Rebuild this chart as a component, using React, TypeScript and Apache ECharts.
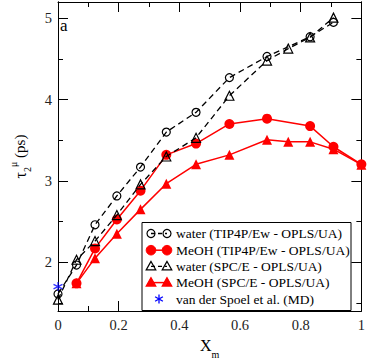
import React, { useEffect, useRef } from "react";
import * as echarts from "echarts";

const xTip = [0, 0.061, 0.122, 0.194, 0.272, 0.357, 0.455, 0.565, 0.689, 0.831, 0.908];
const waterTip = [1.61, 1.965, 2.46, 2.815, 3.17, 3.6, 3.843, 4.27, 4.53, 4.773, 4.95];
const xMeTip = [0.061, 0.122, 0.194, 0.272, 0.357, 0.455, 0.565, 0.689, 0.831, 0.908, 1.0];
const meohTip = [1.74, 2.17, 2.525, 2.88, 3.32, 3.459, 3.7, 3.765, 3.674, 3.42, 3.204];
const xSpc = [0, 0.061, 0.122, 0.194, 0.272, 0.357, 0.455, 0.565, 0.689, 0.759, 0.831, 0.908];
const waterSpc = [1.54, 2.03, 2.26, 2.58, 2.957, 3.3, 3.53, 4.047, 4.48, 4.627, 4.765, 5.008];
const xMeSpc = [0.061, 0.122, 0.194, 0.272, 0.357, 0.455, 0.565, 0.689, 0.759, 0.831, 0.908, 1.0];
const meohSpc = [1.74, 2.05, 2.35, 2.65, 2.965, 3.204, 3.32, 3.506, 3.48, 3.48, 3.39, 3.2];
const spoelX = [0];
const spoelY = [1.7];
const legendNames = [
  "water (TIP4P/Ew - OPLS/UA)",
  "MeOH (TIP4P/Ew - OPLS/UA)",
  "water (SPC/E - OPLS/UA)",
  "MeOH (SPC/E - OPLS/UA)",
  "van der Spoel et al. (MD)",
];
const yMajor = [2, 3, 4, 5];
const yMinor = [1.5, 2.5, 3.5, 4.5];

const FONT = "Liberation Serif";
const ASTER = "path://M0,-5L0,5M-4.33,-2.5L4.33,2.5M-4.33,2.5L4.33,-2.5";

const zip = (xs: number[], ys: number[]) => xs.map((x, i) => [x, ys[i]]);

export default function App() {
  const ref = useRef<HTMLDivElement>(null);
  useEffect(() => {
    const chart = echarts.init(ref.current!, null, { renderer: "svg" });
    const L = { x0: 142, y0: 222.5, w: 209, h: 88 };
    const rows = [233.5, 250.2, 266.4, 282.6, 299];
    const m1 = 151, m2 = 167;
    const legendGraphics: any[] = [
      { type: "rect", shape: { x: L.x0, y: L.y0, width: L.w, height: L.h }, style: { fill: "#fff", stroke: "#000", lineWidth: 1 }, z: 100 },
    ];
    const tri = (x: number, y: number, fill: string, stroke: string) => ({
      type: "polygon",
      shape: { points: [[x, y - 5], [x - 4.8, y + 3.5], [x + 4.8, y + 3.5]] },
      style: { fill, stroke, lineWidth: 1.2 },
      z: 101,
    });
    legendGraphics.push({ type: "line", shape: { x1: m1, y1: rows[0], x2: m2, y2: rows[0] }, style: { stroke: "#000", lineWidth: 1.3, lineDash: [4, 3] }, z: 101 });
    legendGraphics.push({ type: "circle", shape: { cx: m1, cy: rows[0], r: 4 }, style: { fill: "none", stroke: "#000", lineWidth: 1.2 }, z: 101 });
    legendGraphics.push({ type: "circle", shape: { cx: m2, cy: rows[0], r: 4 }, style: { fill: "none", stroke: "#000", lineWidth: 1.2 }, z: 101 });
    legendGraphics.push({ type: "line", shape: { x1: m1, y1: rows[1], x2: m2, y2: rows[1] }, style: { stroke: "#f00", lineWidth: 1.5 }, z: 101 });
    legendGraphics.push({ type: "circle", shape: { cx: m1, cy: rows[1], r: 4.8 }, style: { fill: "#f00", stroke: "#f00" }, z: 101 });
    legendGraphics.push({ type: "circle", shape: { cx: m2, cy: rows[1], r: 4.8 }, style: { fill: "#f00", stroke: "#f00" }, z: 101 });
    legendGraphics.push({ type: "line", shape: { x1: m1, y1: rows[2], x2: m2, y2: rows[2] }, style: { stroke: "#000", lineWidth: 1.3, lineDash: [4, 3] }, z: 101 });
    legendGraphics.push(tri(m1, rows[2], "none", "#000"));
    legendGraphics.push(tri(m2, rows[2], "none", "#000"));
    legendGraphics.push({ type: "line", shape: { x1: m1, y1: rows[3], x2: m2, y2: rows[3] }, style: { stroke: "#f00", lineWidth: 1.5 }, z: 101 });
    legendGraphics.push(tri(m1, rows[3], "#f00", "#f00"));
    legendGraphics.push(tri(m2, rows[3], "#f00", "#f00"));
    const ax = (m1 + m2) / 2, ay = rows[4];
    [[0, -4.5, 0, 4.5], [-3.9, -2.25, 3.9, 2.25], [-3.9, 2.25, 3.9, -2.25]].forEach(([a, b, c, d]) => {
      legendGraphics.push({ type: "line", shape: { x1: ax + a, y1: ay + b, x2: ax + c, y2: ay + d }, style: { stroke: "#00f", lineWidth: 1.3 }, z: 101 });
    });
    legendNames.forEach((n, i) => {
      legendGraphics.push({
        type: "text",
        x: 176,
        y: rows[i],
        style: { text: n, fill: "#000", fontFamily: FONT, fontSize: 13.5, verticalAlign: "middle", align: "left" },
        z: 101,
      });
    });
    legendGraphics.push({ type: "text", x: 60, y: 25, style: { text: "a", fill: "#000", fontFamily: FONT, fontSize: 17, verticalAlign: "middle" }, z: 101 });

    const xCommon = { type: "value", min: 0, max: 1, interval: 0.2 };
    const yCommon = { type: "value", min: 1.4, max: 5.2 };
    const lineBlack = { color: "#000", width: 1 };
    chart.setOption({
      animation: false,
      textStyle: { fontFamily: FONT },
      grid: { left: 39, right: 3, top: 2, bottom: 39, containLabel: false },
      xAxis: [
        {
          ...xCommon,
          position: "bottom",
          name: "{x|X}{m|m}",
          nameLocation: "middle",
          nameGap: 23,
          nameTextStyle: {
            rich: {
              x: { fontFamily: FONT, fontSize: 16, color: "#000", verticalAlign: "middle", lineHeight: 22 },
              m: { fontFamily: FONT, fontSize: 10, color: "#000", verticalAlign: "bottom", lineHeight: 22, padding: [0, 0, -3, 0] },
            },
          },
          axisLine: { lineStyle: lineBlack },
          axisTick: { inside: true, length: 10, lineStyle: lineBlack },
          minorTick: { show: true, splitNumber: 2, length: 5, lineStyle: lineBlack },
          splitLine: { show: false },
          axisLabel: {
            fontFamily: FONT,
            fontSize: 14.5,
            color: "#222",
            margin: 6,
            formatter: (v: number) => (v === 0 ? "0" : v === 1 ? "1" : String(+v.toFixed(1))),
          },
        },
        {
          ...xCommon,
          position: "top",
          axisLine: { lineStyle: lineBlack },
          axisTick: { inside: true, length: 10, lineStyle: lineBlack },
          minorTick: { show: true, splitNumber: 2, length: 5, lineStyle: lineBlack },
          splitLine: { show: false },
          axisLabel: { show: false },
        },
      ],
      yAxis: [
        {
          ...yCommon,
          position: "left",
          name: "{t|τ}{s|2}{u|μ}{p| (ps)}",
          nameLocation: "middle",
          nameRotate: 90,
          nameGap: 26,
          nameTextStyle: {
            rich: {
              t: { fontFamily: FONT, fontSize: 16, color: "#000", lineHeight: 24, verticalAlign: "middle" },
              s: { fontFamily: FONT, fontSize: 10, color: "#000", lineHeight: 24, verticalAlign: "bottom" },
              u: { fontFamily: FONT, fontSize: 10, color: "#000", lineHeight: 24, verticalAlign: "top" },
              p: { fontFamily: FONT, fontSize: 15, color: "#000", lineHeight: 24, verticalAlign: "middle" },
            },
          },
          axisLine: { show: true, lineStyle: lineBlack },
          axisTick: { inside: true, length: 10, lineStyle: lineBlack, customValues: yMajor },
          splitLine: { show: false },
          axisLabel: { fontFamily: FONT, fontSize: 14.5, color: "#222", margin: 6, customValues: yMajor },
        },
        {
          ...yCommon,
          position: "left",
          axisLine: { show: true, lineStyle: lineBlack },
          axisTick: { show: true, inside: true, length: 5, lineStyle: lineBlack, customValues: yMinor },
          splitLine: { show: false },
          axisLabel: { show: false, customValues: yMinor },
        },
        {
          ...yCommon,
          position: "right",
          axisLine: { show: true, lineStyle: lineBlack },
          axisTick: { inside: true, length: 10, lineStyle: lineBlack, customValues: yMajor },
          splitLine: { show: false },
          axisLabel: { show: false, customValues: yMajor },
        },
        {
          ...yCommon,
          position: "right",
          axisLine: { show: true, lineStyle: lineBlack },
          axisTick: { show: true, inside: true, length: 5, lineStyle: lineBlack, customValues: yMinor },
          splitLine: { show: false },
          axisLabel: { show: false, customValues: yMinor },
        },
      ],
      series: [
        {
          name: legendNames[0],
          type: "line",
          data: zip(xTip, waterTip),
          symbol: "circle",
          symbolSize: 8,
          itemStyle: { color: "transparent", borderColor: "#000", borderWidth: 1.2 },
          lineStyle: { color: "#000", width: 1.3, type: [6, 4] },
          z: 3,
        },
        {
          name: legendNames[2],
          type: "line",
          data: zip(xSpc, waterSpc),
          symbol: "triangle",
          symbolSize: 9,
          itemStyle: { color: "transparent", borderColor: "#000", borderWidth: 1.2 },
          lineStyle: { color: "#000", width: 1.3, type: [6, 4] },
          z: 3,
        },
        {
          name: legendNames[1],
          type: "line",
          data: zip(xMeTip, meohTip),
          symbol: "circle",
          symbolSize: 10,
          itemStyle: { color: "#f00" },
          lineStyle: { color: "#f00", width: 1.5 },
          z: 2,
        },
        {
          name: legendNames[3],
          type: "line",
          data: zip(xMeSpc, meohSpc),
          symbol: "triangle",
          symbolSize: 10,
          itemStyle: { color: "#f00" },
          lineStyle: { color: "#f00", width: 1.5 },
          z: 2,
        },
        {
          name: legendNames[4],
          type: "scatter",
          data: zip(spoelX, spoelY),
          symbol: ASTER,
          symbolSize: 9,
          itemStyle: { color: "#00f", borderColor: "#00f", borderWidth: 1.3 },
          z: 4,
        },
      ],
      graphic: legendGraphics,
    });
    return () => chart.dispose();
  }, []);
  return <div ref={ref} style={{ width: 368, height: 364, position: "absolute", left: 0, top: 0 }} />;
}
